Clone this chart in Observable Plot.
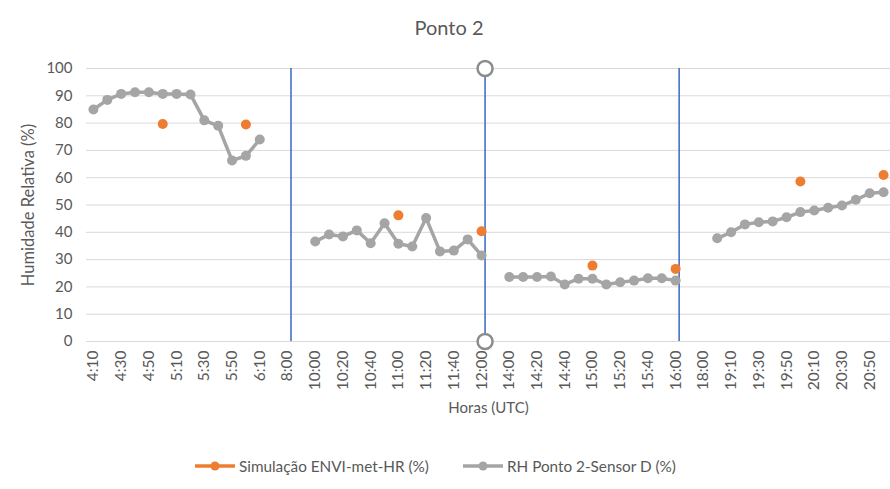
<!DOCTYPE html>
<html>
<head>
<meta charset="utf-8">
<script src="https://cdn.jsdelivr.net/npm/d3@7"></script>
<script src="https://cdn.jsdelivr.net/npm/@observablehq/plot@0.6"></script>
<style>
  body { margin: 0; background: #fff; font-family: Lato, "Open Sans", sans-serif; }
  #wrap { width: 890px; height: 489px; position: relative; overflow: hidden; }
  #title { height: 50px; line-height: 54px; text-align: center; font-size: 20px; color: #595959; padding-left: 8px; }
  #legend { position: absolute; top: 457px; left: 194px; display: flex; align-items: center; font-size: 15.3px; color: #595959; }
  .item { display: flex; align-items: center; margin-right: 33px; }
  .item svg { margin-right: 3px; }
</style>
</head>
<body>
<div id="wrap">
  <div id="title">Ponto 2</div>
  <div id="chart"></div>
  <div id="legend"></div>
</div>
<script>
// Categories (x axis, ordinal)
const times = [
  "4:10","4:20","4:30","4:40","4:50","5:00","5:10","5:20","5:30","5:40","5:50","6:00","6:10",
  "7:00","8:00","9:00",
  "10:00","10:10","10:20","10:30","10:40","10:50","11:00","11:10","11:20","11:30","11:40","11:50","12:00",
  "13:00",
  "14:00","14:10","14:20","14:30","14:40","14:50","15:00","15:10","15:20","15:30","15:40","15:50","16:00",
  "17:00","18:00",
  "19:00","19:10","19:20","19:30","19:40","19:50","20:00","20:10","20:20","20:30","20:40","20:50","21:00"
];
// Tick labels shown (every other category)
const tickLabels = times.filter((d, i) => i % 2 === 0);

// RH Ponto 2-Sensor D (%) — null where no measurement
const sensorValues = [
  85, 88.5, 90.7, 91.3, 91.3, 90.7, 90.7, 90.5, 81, 79, 66.3, 68, 74,
  null, null, null,
  36.6, 39.2, 38.5, 40.7, 36, 43.3, 35.8, 34.8, 45.2, 33, 33.3, 37.4, 31.5,
  null,
  23.6, 23.6, 23.6, 23.8, 20.9, 23, 23, 20.9, 21.7, 22.3, 23.2, 23.2, 22.3,
  null, null,
  37.8, 40, 42.9, 43.7, 44, 45.5, 47.4, 48, 49, 49.8, 51.9, 54.3, 54.7
];

// Simulação ENVI-met-HR (%)
const simTimes = ["5:00", "6:00", "11:00", "12:00", "15:00", "16:00", "20:00", "21:00"];
const simValues = [79.7, 79.5, 46.2, 40.4, 27.8, 26.6, 58.6, 61];

// Vertical markers
const markerTimes = ["8:00", "12:00", "16:00"];
const circleTime = ["12:00", "12:00"];
const circleValues = [100, 0];

const yTicks = [0, 10, 20, 30, 40, 50, 60, 70, 80, 90, 100];

const sensor = times.map((t, i) => ({t, v: sensorValues[i]}));
const sim = simTimes.map((t, i) => ({t, v: simValues[i]}));
const circles = circleTime.map((t, i) => ({t, v: circleValues[i]}));

const GRAY = "#a5a5a5", ORANGE = "#ed7d31", BLUE = "#4472c4", TXT = "#595959";

const chart = Plot.plot({
  width: 890,
  height: 380,
  marginLeft: 86,
  marginRight: 0,
  marginTop: 18,
  marginBottom: 89,
  style: {fontFamily: "Lato, 'Open Sans', sans-serif", color: TXT, background: "#fff"},
  x: {type: "point", domain: times, padding: 0.5},
  y: {domain: [0, 100]},
  marks: [
    Plot.gridY(yTicks, {stroke: "#d9d9d9", strokeOpacity: 1, strokeWidth: 1}),
    Plot.axisY(yTicks, {tickSize: 0, tickPadding: 14, fontSize: 15, fill: TXT, label: null}),
    Plot.axisX(tickLabels, {tickSize: 0, tickPadding: 9, tickRotate: -90, fontSize: 15.5, fill: TXT, label: null}),
    Plot.text(["Horas (UTC)"], {frameAnchor: "bottom", dy: 71, fontSize: 15, fill: TXT}),
    Plot.text(["Humidade Relativa (%)"], {frameAnchor: "left", textAnchor: "middle", dx: -58, rotate: -90, fontSize: 16.5, fill: TXT}),
    Plot.ruleX(markerTimes, {y1: 0, y2: 100, stroke: BLUE, strokeWidth: 1.6, dx: 3.5}),
    Plot.line(sensor, {x: "t", y: "v", stroke: GRAY, strokeWidth: 3.5, curve: "linear"}),
    Plot.dot(sensor.filter(d => d.v != null), {x: "t", y: "v", r: 5, fill: GRAY, stroke: "none"}),
    Plot.dot(sim, {x: "t", y: "v", r: 5, fill: ORANGE, stroke: "none"}),
    Plot.dot(circles, {x: "t", y: "v", r: 7.5, fill: "#fff", stroke: "#8c8c8c", strokeWidth: 2.5, dx: 3.5})
  ]
});
document.getElementById("chart").appendChild(chart);

// Legend
const legendItems = [
  {label: "Simulação ENVI-met-HR (%)", color: ORANGE},
  {label: "RH Ponto 2-Sensor D (%)", color: GRAY}
];
const legend = document.getElementById("legend");
for (const it of legendItems) {
  const div = document.createElement("div");
  div.className = "item";
  div.innerHTML = `<svg width="42" height="12"><line x1="1" x2="41" y1="6" y2="6" stroke="${it.color}" stroke-width="3.5"/><circle cx="21" cy="6" r="4.5" fill="${it.color}"/></svg><span>${it.label}</span>`;
  legend.appendChild(div);
}
</script>
</body>
</html>
